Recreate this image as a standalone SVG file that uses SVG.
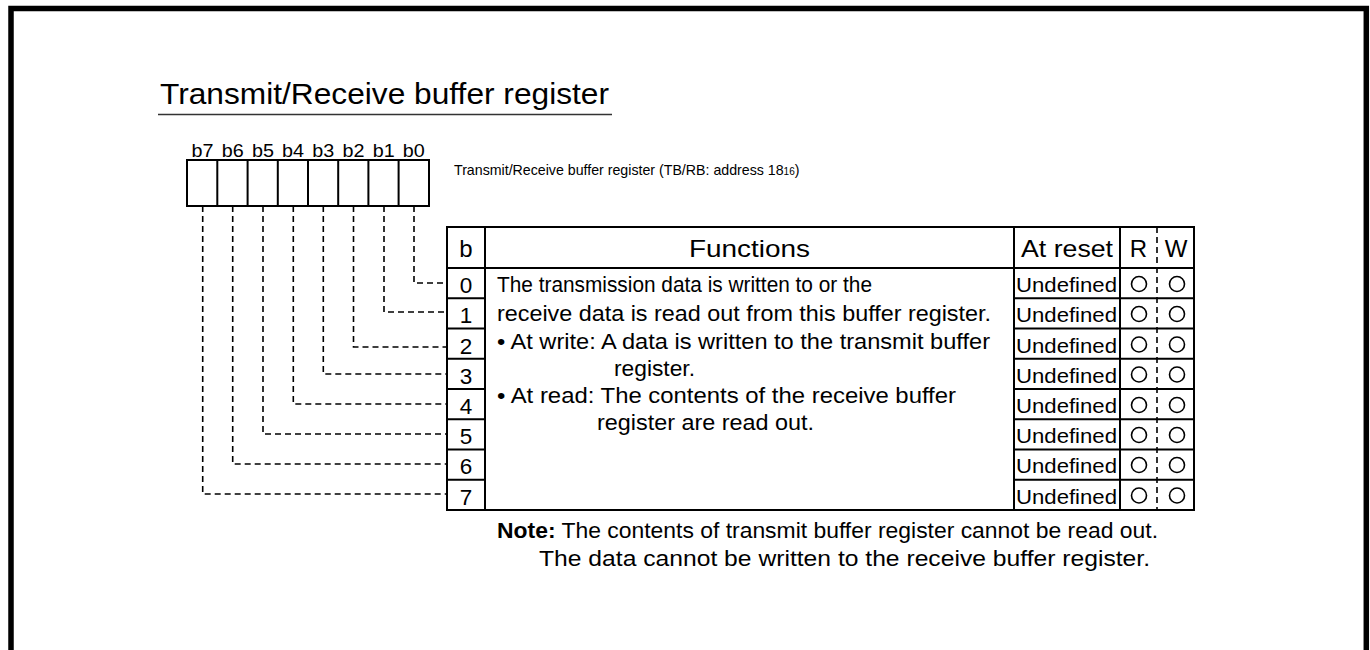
<svg xmlns="http://www.w3.org/2000/svg" width="1370" height="650" viewBox="0 0 1370 650">
<style>
text{font-family:"Liberation Sans",Arial,sans-serif;fill:#000}
.t{font-size:22.5px}
.h{font-size:24px}
.c{text-anchor:middle}
.u{font-size:21px}
.bit{font-size:18px;text-anchor:middle}
.ln{stroke:#000;stroke-width:2;fill:none}
.dash{stroke:#000;stroke-width:1.6;fill:none;stroke-dasharray:6 4}
.circ{stroke:#000;stroke-width:1.6;fill:none}
</style>
<rect x="11" y="8.5" width="1355.3" height="720" fill="#fff" stroke="#000" stroke-width="5.5"/>
<g id="title">
<text x="160" y="104" style="font-size:30px" textLength="449" lengthAdjust="spacingAndGlyphs">Transmit/Receive buffer register</text>
<line x1="158" y1="114.5" x2="612" y2="114.5" stroke="#333" stroke-width="1.5"/>
</g>
<g id="register">
<text class="bit" x="202.5" y="157" textLength="22" lengthAdjust="spacingAndGlyphs">b7</text>
<text class="bit" x="232.7" y="157" textLength="22" lengthAdjust="spacingAndGlyphs">b6</text>
<text class="bit" x="263" y="157" textLength="22" lengthAdjust="spacingAndGlyphs">b5</text>
<text class="bit" x="293" y="157" textLength="22" lengthAdjust="spacingAndGlyphs">b4</text>
<text class="bit" x="323.3" y="157" textLength="22" lengthAdjust="spacingAndGlyphs">b3</text>
<text class="bit" x="353.5" y="157" textLength="22" lengthAdjust="spacingAndGlyphs">b2</text>
<text class="bit" x="383.7" y="157" textLength="22" lengthAdjust="spacingAndGlyphs">b1</text>
<text class="bit" x="413.7" y="157" textLength="22" lengthAdjust="spacingAndGlyphs">b0</text>
<rect x="187" y="160" width="242" height="46" class="ln"/>
<path class="ln" d="M217.3 160V206M247.6 160V206M277.8 160V206M308 160V206M338.2 160V206M368.4 160V206M398.6 160V206"/>
<text x="454" y="175" style="font-size:14.2px">Transmit/Receive buffer register (TB/RB: address 18<tspan style="font-size:10px">16</tspan>)</text>
</g>
<g id="connectors">
<path class="dash" d="M414 206V283H447"/>
<path class="dash" d="M384 206V312H447"/>
<path class="dash" d="M353.5 206V347H447"/>
<path class="dash" d="M323.3 206V374H447"/>
<path class="dash" d="M293.3 206V404H447"/>
<path class="dash" d="M263 206V434H447"/>
<path class="dash" d="M232.7 206V464H447"/>
<path class="dash" d="M202.7 206V494H447"/>
</g>
<g id="table">
<rect x="447" y="227" width="747" height="283" class="ln"/>
<path class="ln" d="M485 227V510M1014 227V510M1120 227V510M447 268H1194"/>
<path class="ln" d="M447 298.3H485M447 328.5H485M447 358.8H485M447 389H485M447 419.3H485M447 449.5H485M447 479.8H485"/>
<path class="ln" d="M1014 298.3H1194M1014 328.5H1194M1014 358.8H1194M1014 389H1194M1014 419.3H1194M1014 449.5H1194M1014 479.8H1194"/>
<path class="dash" d="M1157 227V510" stroke-width="1.3"/>
<text class="h c" x="466" y="257">b</text>
<text class="h c" x="749.5" y="257" textLength="121" lengthAdjust="spacingAndGlyphs">Functions</text>
<text class="h c" x="1067" y="257" textLength="92" lengthAdjust="spacingAndGlyphs">At reset</text>
<text class="h c" x="1138.5" y="257">R</text>
<text class="h c" x="1176" y="257">W</text>
<text class="t c" x="466" y="293">0</text>
<text class="t c" x="466" y="323">1</text>
<text class="t c" x="466" y="353.5">2</text>
<text class="t c" x="466" y="383.5">3</text>
<text class="t c" x="466" y="414">4</text>
<text class="t c" x="466" y="444">5</text>
<text class="t c" x="466" y="474">6</text>
<text class="t c" x="466" y="504.5">7</text>
<text class="t" x="497" y="292" textLength="375" lengthAdjust="spacingAndGlyphs">The transmission data is written to or the</text>
<text class="t" x="497" y="321" textLength="494" lengthAdjust="spacingAndGlyphs">receive data is read out from this buffer register.</text>
<text class="t" x="497" y="349" textLength="493" lengthAdjust="spacingAndGlyphs">• At write: A data is written to the transmit buffer</text>
<text class="t" x="614" y="376" textLength="81" lengthAdjust="spacingAndGlyphs">register.</text>
<text class="t" x="497" y="403" textLength="459" lengthAdjust="spacingAndGlyphs">• At read: The contents of the receive buffer</text>
<text class="t" x="597" y="430" textLength="217" lengthAdjust="spacingAndGlyphs">register are read out.</text>
<g class="u">
<text x="1016" y="292" textLength="101" lengthAdjust="spacingAndGlyphs">Undefined</text>
<text x="1016" y="322" textLength="101" lengthAdjust="spacingAndGlyphs">Undefined</text>
<text x="1016" y="352.5" textLength="101" lengthAdjust="spacingAndGlyphs">Undefined</text>
<text x="1016" y="382.5" textLength="101" lengthAdjust="spacingAndGlyphs">Undefined</text>
<text x="1016" y="413" textLength="101" lengthAdjust="spacingAndGlyphs">Undefined</text>
<text x="1016" y="443" textLength="101" lengthAdjust="spacingAndGlyphs">Undefined</text>
<text x="1016" y="473" textLength="101" lengthAdjust="spacingAndGlyphs">Undefined</text>
<text x="1016" y="503.5" textLength="101" lengthAdjust="spacingAndGlyphs">Undefined</text>
</g>
<g class="circ">
<circle cx="1139" cy="284" r="7.5"/><circle cx="1177" cy="284" r="7.5"/>
<circle cx="1139" cy="314" r="7.5"/><circle cx="1177" cy="314" r="7.5"/>
<circle cx="1139" cy="344.5" r="7.5"/><circle cx="1177" cy="344.5" r="7.5"/>
<circle cx="1139" cy="374.5" r="7.5"/><circle cx="1177" cy="374.5" r="7.5"/>
<circle cx="1139" cy="405" r="7.5"/><circle cx="1177" cy="405" r="7.5"/>
<circle cx="1139" cy="435" r="7.5"/><circle cx="1177" cy="435" r="7.5"/>
<circle cx="1139" cy="465" r="7.5"/><circle cx="1177" cy="465" r="7.5"/>
<circle cx="1139" cy="495.5" r="7.5"/><circle cx="1177" cy="495.5" r="7.5"/>
</g>
</g>
<g id="note">
<text class="t" x="497" y="538" textLength="661" lengthAdjust="spacingAndGlyphs"><tspan font-weight="bold">Note:</tspan> The contents of transmit buffer register cannot be read out.</text>
<text class="t" x="539" y="566" textLength="611" lengthAdjust="spacingAndGlyphs">The data cannot be written to the receive buffer register.</text>
</g>
</svg>
